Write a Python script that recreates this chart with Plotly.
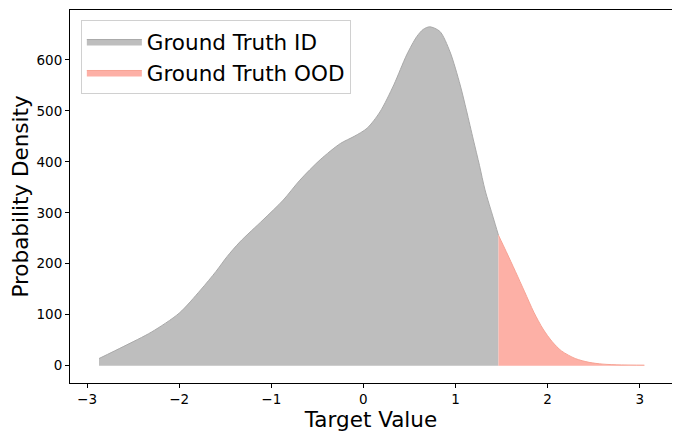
import plotly.graph_objects as go

# density curves
id_x = [-2.87, -2.6, -2.3, -2.0, -1.77, -1.6, -1.48, -1.34, -1.09, -0.87, -0.69, -0.47,
        -0.25, -0.1, 0.04, 0.18, 0.33, 0.47, 0.58, 0.65, 0.72, 0.83, 0.94, 1.05,
        1.12, 1.194, 1.26, 1.32, 1.41, 1.466]
id_y = [14, 38, 66, 103, 148, 185, 214, 243, 286, 325, 364, 404,
        436, 450, 466, 498, 551, 610, 646, 660, 665, 656, 616, 551,
        500, 443, 393, 345, 290, 256]

ood_x = [1.466, 1.55, 1.65, 1.75, 1.85, 1.95, 2.05, 2.15, 2.3, 2.45, 2.6, 2.8, 3.05]
ood_y = [256, 224, 185, 145, 105, 72, 47, 29, 14, 6.5, 3, 1.5, 1]

x_ticks = [-3, -2, -1, 0, 1, 2, 3]
y_ticks = [0, 100, 200, 300, 400, 500, 600]

fig = go.Figure()
fig.add_trace(go.Scatter(x=id_x, y=id_y, name='Ground Truth ID', mode='lines',
                         fill='tozeroy', fillcolor='#bebebe',
                         line=dict(color='#a9a9a9', width=1, shape='spline', smoothing=0.8)))
fig.add_trace(go.Scatter(x=ood_x, y=ood_y, name='Ground Truth OOD', mode='lines',
                         fill='tozeroy', fillcolor='#fdb0a6',
                         line=dict(color='#f7a394', width=1, shape='spline', smoothing=0.8)))

axis_style = dict(showline=True, linecolor='black', linewidth=1, mirror=True,
                  ticks='outside', ticklen=4, tickcolor='black', showgrid=False,
                  zeroline=False, tickfont=dict(size=13.5, color='black'))

# the page puts the figure 8px in from the corner, so the margins allow for it
fig.update_layout(
    width=680, height=440,
    margin=dict(l=62, r=16, t=2, b=65),
    paper_bgcolor='white', plot_bgcolor='white',
    font=dict(family='DejaVu Sans', color='black'),
    xaxis=dict(range=[-3.185, 3.35], tickvals=x_ticks,
               title=dict(text='Target Value', font=dict(size=21.5), standoff=4), **axis_style),
    yaxis=dict(range=[-34, 698], tickvals=y_ticks,
               title=dict(text='Probability Density', font=dict(size=21.5), standoff=8), **axis_style),
    legend=dict(x=0.018, y=0.973, xanchor='left', yanchor='top',
                bgcolor='rgba(255,255,255,0.8)', bordercolor='#d0d0d0', borderwidth=1,
                font=dict(size=21.5), itemwidth=55),
    showlegend=True,
)

fig.write_html("out.html")
